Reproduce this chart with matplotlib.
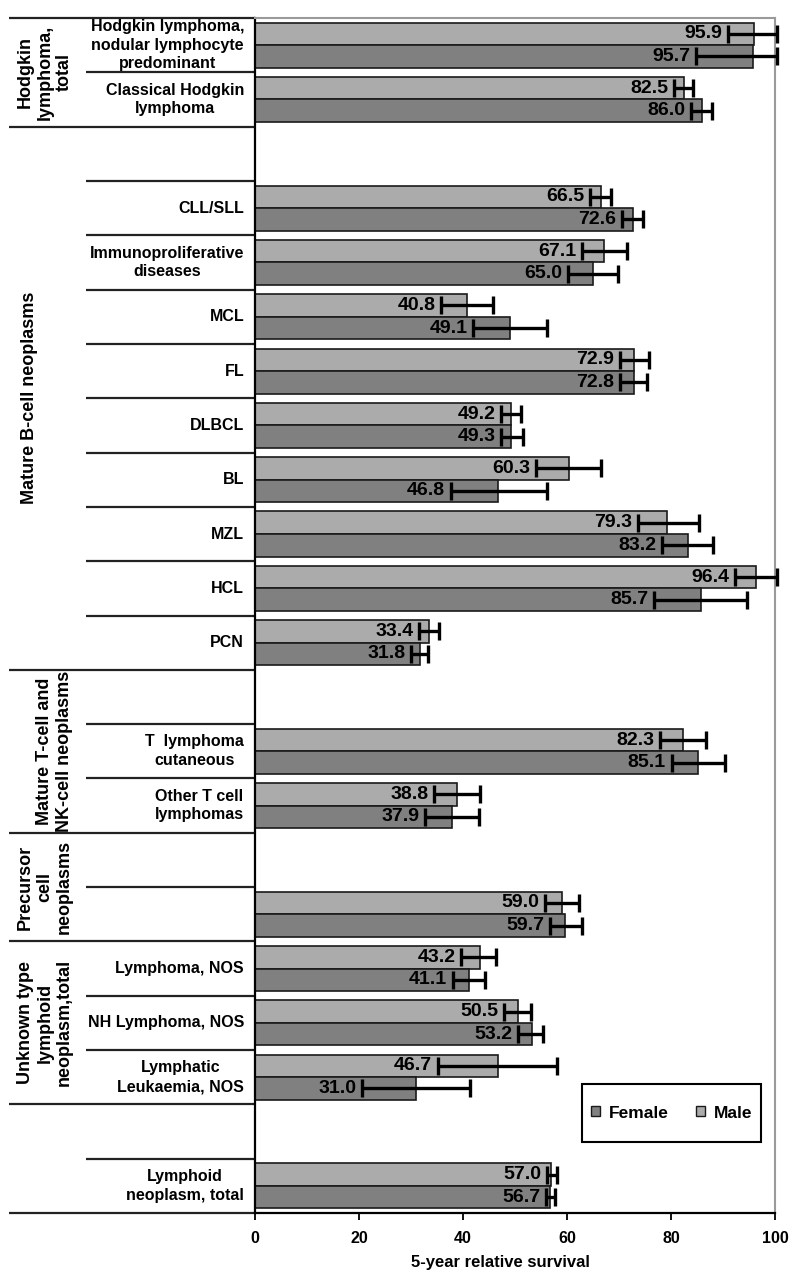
import numpy as np
import matplotlib
matplotlib.use("Agg")
import matplotlib.pyplot as plt
import matplotlib.transforms as mtransforms
from matplotlib.patches import Rectangle

plt.rcParams['font.family'] = ['Liberation Sans', 'DejaVu Sans']
plt.rcParams['font.weight'] = 'bold'

nan = np.nan
categories = ["Hodgkin lymphoma,\nnodular lymphocyte\npredominant", "Classical Hodgkin\nlymphoma", "",
              "CLL/SLL", "Immunoproliferative\ndiseases", "MCL", "FL", "DLBCL", "BL", "MZL", "HCL", "PCN", "",
              "T  lymphoma\ncutaneous", "Other T cell\nlymphomas", "", "",
              "Lymphoma, NOS", "NH Lymphoma, NOS", "Lymphatic\nLeukaemia, NOS", "",
              "Lymphoid\nneoplasm, total"]
male = [95.9, 82.5, nan, 66.5, 67.1, 40.8, 72.9, 49.2, 60.3, 79.3, 96.4, 33.4, nan, 82.3, 38.8, nan,
        59.0, 43.2, 50.5, 46.7, nan, 57.0]
female = [95.7, 86.0, nan, 72.6, 65.0, 49.1, 72.8, 49.3, 46.8, 83.2, 85.7, 31.8, nan, 85.1, 37.9, nan,
          59.7, 41.1, 53.2, 31.0, nan, 56.7]
male_lo = [91.0, 80.6, nan, 64.5, 62.9, 35.8, 70.2, 47.3, 54.0, 73.6, 92.3, 31.5, nan, 77.9, 34.4, nan,
           55.8, 39.7, 47.9, 35.1, nan, 56.1]
male_hi = [100.4, 84.3, nan, 68.4, 71.5, 45.8, 75.8, 51.2, 66.5, 85.3, 100.3, 35.3, nan, 86.7, 43.3, nan,
           62.3, 46.3, 53.1, 58.0, nan, 58.0]
female_lo = [84.8, 83.8, nan, 70.5, 60.1, 42.0, 70.2, 47.3, 37.6, 78.2, 76.7, 30.0, nan, 80.1, 32.7, nan,
             56.7, 38.0, 50.6, 20.6, nan, 55.9]
female_hi = [100.4, 87.9, nan, 74.7, 69.9, 56.1, 75.3, 51.6, 56.1, 88.1, 94.7, 33.3, nan, 90.4, 43.1, nan,
             62.8, 44.2, 55.4, 41.3, nan, 57.7]
group_labels = ["Hodgkin\nlymphoma,\ntotal", "Mature B-cell neoplasms", "Mature T-cell and\nNK-cell neoplasms",
                "Precursor\ncell\nneoplasms", "Unknown type\nlymphoid\nneoplasm,total", ""]
group_sizes = [2, 10, 3, 2, 3, 2]
xticks = [0, 20, 40, 60, 80, 100]
xlabel = "5-year relative survival"

male_color = '#ababab'
female_color = '#808080'

fig = plt.figure(figsize=(7.96, 12.8), dpi=100)
ax = fig.add_axes([255/796, 1-1213/1280, 520/796, (1213-18)/1280])

n = len(categories)
y = np.arange(n)
male_a = np.array(male); female_a = np.array(female)
h = 0.415
ym = y - h/2
yf = y + h/2

bm = ax.barh(ym, male_a, height=h, color=male_color, edgecolor='#1a1a1a', linewidth=1.2, label='Male', zorder=2)
bf = ax.barh(yf, female_a, height=h, color=female_color, edgecolor='#1a1a1a', linewidth=1.2, label='Female', zorder=2)

m_err = np.vstack([male_a - np.array(male_lo), np.array(male_hi) - male_a])
f_err = np.vstack([female_a - np.array(female_lo), np.array(female_hi) - female_a])
for yy, vv, ee in [(ym, male_a, m_err), (yf, female_a, f_err)]:
    eb = ax.errorbar(vv, yy, xerr=ee, fmt='none', ecolor='black', elinewidth=2.4, capsize=6.5,
                     capthick=2.4, zorder=3)
    for art in eb.get_children():
        art.set_clip_on(False)

for yy, vv, lo in [(ym, male_a, male_lo), (yf, female_a, female_lo)]:
    for yi, v, l in zip(yy, vv, lo):
        if np.isnan(v):
            continue
        ax.annotate(f"{v:.1f}", xy=(l, yi), xytext=(-4, 0), textcoords='offset points',
                    ha='right', va='center', fontsize=14, fontweight='bold', zorder=4)

ax.set_xlim(0, 100)
ax.set_ylim(n - 0.5, -0.5)
ax.set_xticks(xticks)
ax.set_xticklabels([str(t) for t in xticks], fontsize=11.5, fontweight='bold')
ax.tick_params(axis='x', direction='out', length=5, width=1.3, pad=8, color='black')
ax.set_yticks([])
for s in ['top', 'right']:
    ax.spines[s].set_color('#9a9a9a')
    ax.spines[s].set_linewidth(1.5)
for s in ['left', 'bottom']:
    ax.spines[s].set_color('black')
    ax.spines[s].set_linewidth(1.6)

trans = mtransforms.blended_transform_factory(ax.transAxes, ax.transData)
outer_x = (9 - 255) / 520
inner_x = (86 - 255) / 520
cat_x = (244 - 255) / 520
grp_x = (73 - 255) / 520

for i, c in enumerate(categories):
    if c:
        ax.text(cat_x, i, c, transform=trans, ha='right', va='center', multialignment='center',
                fontsize=11.5, fontweight='bold', linespacing=1.3)

start = 0
boundaries = [-0.5]
for g, size in zip(group_labels, group_sizes):
    end = start + size
    boundaries.append(end - 0.5)
    for k in range(start + 1, end):
        ax.plot([inner_x, 0], [k - 0.5, k - 0.5], transform=trans, color='#222222', lw=1.6,
                clip_on=False, solid_capstyle='butt')
    if g:
        center = (start + end - 1) / 2
        if '\n' in g:
            ax.text(grp_x, center, g, transform=trans, rotation=90, ha='right', va='center',
                    multialignment='center', fontsize=13, fontweight='bold', linespacing=1.2)
        else:
            ax.text((29 - 255) / 520, center, g, transform=trans, rotation=90, ha='center', va='center',
                    fontsize=13, fontweight='bold')
    start = end
for b in boundaries:
    ax.plot([outer_x, 0], [b, b], transform=trans, color='#222222', lw=1.6, clip_on=False,
            solid_capstyle='butt')

fig.text(500/796, 1 - 1263/1280, xlabel, ha='center', va='center', fontsize=12, fontweight='bold')

# legend with manual frame
frame = Rectangle((582/796, 1 - 1142/1280), 179/796, 58/1280, transform=fig.transFigure,
                  facecolor='white', edgecolor='black', linewidth=1.5, zorder=5, clip_on=False)
ax.add_artist(frame)
leg = ax.legend(handles=[bf, bm], labels=['Female', 'Male'], loc='center',
                bbox_to_anchor=((582 + 761) / 2 / 796, 1 - (1084 + 1142) / 2 / 1280),
                bbox_transform=fig.transFigure, ncol=2, frameon=False,
                prop={'weight': 'bold', 'size': 12.5}, handlelength=0.5, handleheight=0.5,
                handletextpad=0.5, columnspacing=1.6, borderpad=0.2, borderaxespad=0)
leg.set_zorder(10)
for p in leg.get_patches():
    p.set_linewidth(1.0)

fig.savefig('out.png', dpi=100)
